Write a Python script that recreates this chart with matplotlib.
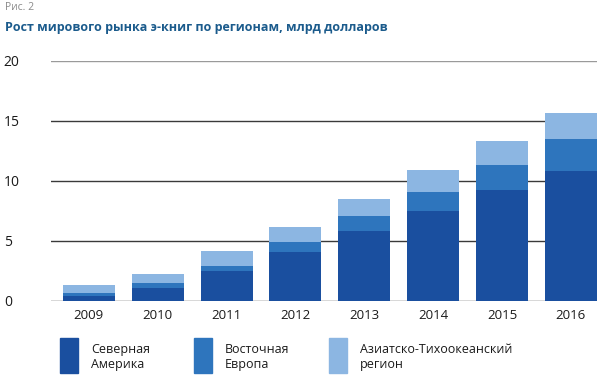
import numpy as np
import matplotlib.pyplot as plt
from matplotlib.patches import Rectangle

# data, bn USD
years = ['2009', '2010', '2011', '2012', '2013', '2014', '2015', '2016']
north_america = [0.45, 1.05, 2.5, 4.1, 5.85, 7.5, 9.25, 10.85]
east_europe = [0.25, 0.45, 0.4, 0.8, 1.25, 1.55, 2.1, 2.65]
asia_pacific = [0.6, 0.75, 1.25, 1.25, 1.4, 1.85, 2.0, 2.2]
series_names = ['Северная\nАмерика', 'Восточная\nЕвропа', 'Азиатско-Тихоокеанский\nрегион']
colors = ['#1a4f9f', '#2e75bd', '#8cb6e2']

plt.rcParams['font.family'] = ['Open Sans', 'DejaVu Sans']

fig = plt.figure(figsize=(6, 3.78), dpi=100)
ax = fig.add_axes([51/600, 77/378, 546/600, 240/378])

x = np.arange(len(years))
w = 0.757
na = np.array(north_america)
ee = np.array(east_europe)
ap = np.array(asia_pacific)
ax.bar(x, na, w, color=colors[0], zorder=2)
ax.bar(x, ee, w, bottom=na, color=colors[1], zorder=2)
ax.bar(x, ap, w, bottom=na+ee, color=colors[2], zorder=2)

ax.set_xlim(-0.55, 7.38)
ax.set_ylim(0, 20)
ax.set_yticks([0, 5, 10, 15, 20])
for s in ax.spines.values():
    s.set_visible(False)
for yv in [0, 5, 10, 15]:
    ax.axhline(yv, color='#3a3a3a', lw=1.0, zorder=1)
ax.axhline(20, color='#9a9a9a', lw=1.0, zorder=1)

ax.set_xticks(x)
ax.set_xticklabels(years, fontsize=9.5, color='#1a1a1a')
ax.tick_params(axis='x', length=0, pad=6)
ax.tick_params(axis='y', length=0, pad=34, labelsize=10, labelcolor='#1a1a1a')
for t in ax.get_yticklabels():
    t.set_ha('left')

fig.text(5/600, 1-8/378, 'Рис. 2', fontsize=7.5, color='#8a8a8a', va='center')
fig.text(5/600, 1-27/378, 'Рост мирового рынка э-книг по регионам, млрд долларов',
         fontsize=9, fontweight='bold', color='#1b5b8c', va='center')

# legend swatches
sw_x = [60, 194, 329]
for i in range(3):
    fig.add_artist(Rectangle((sw_x[i]/600, 1-373/378), 18/600, 35/378,
                             transform=fig.transFigure, color=colors[i]))
    fig.text((sw_x[i]+31)/600, 1-357/378, series_names[i], fontsize=9,
             color='#1a1a1a', va='center', linespacing=1.25)

fig.savefig('out.png', dpi=100)
